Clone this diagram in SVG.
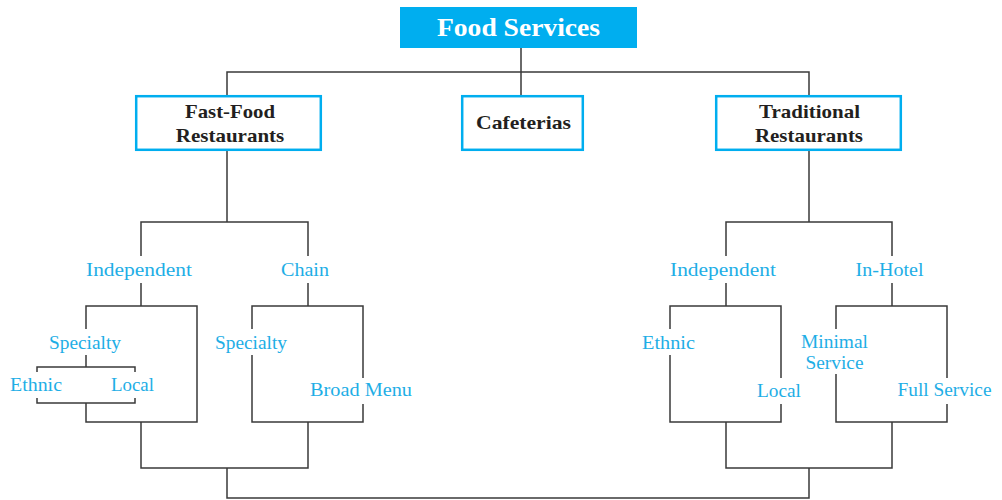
<svg xmlns="http://www.w3.org/2000/svg" width="1002" height="500" viewBox="0 0 1002 500">
<style>
.ln{fill:none;stroke:#3a3a3a;stroke-width:1.5}
.bx{fill:#fff;stroke:#00AEEF;stroke-width:2.5}
.hd{font-family:"Liberation Serif","Times New Roman",serif;font-weight:bold;font-size:19px;fill:#231F20;text-anchor:middle}
.lb{font-family:"Liberation Serif","Times New Roman",serif;font-size:18px;fill:#1EAEE6;text-anchor:middle}
.tt{font-family:"Liberation Serif","Times New Roman",serif;font-weight:bold;font-size:25px;fill:#fff;text-anchor:middle}
</style>
<rect width="1002" height="500" fill="#fff"/>
<g id="connectors">
<path class="ln" d="M521,48V95M227,95V72H809V95"/>
<path class="ln" d="M227,151V222M141,256V222H308V256"/>
<path class="ln" d="M141,283V306M86,329V306H197V422H86V403M86,355V367M37,372V367H135V372M37,398V403H135V398"/>
<path class="ln" d="M308,283V306M252,329V306H363V378M363,404V422H252V355"/>
<path class="ln" d="M141,422V468H308V422M227,468V498H809V468"/>
<path class="ln" d="M809,151V222M726,256V222H892V256"/>
<path class="ln" d="M726,283V306M670,329V306H781V378M781,404V422H670V355"/>
<path class="ln" d="M892,283V306M836,329V306H947V378M947,404V422H836V374"/>
<path class="ln" d="M726,422V468H892V422"/>
</g>
<g id="food-services">
<rect x="400" y="7" width="237" height="41" fill="#00AEEF"/>
<text class="tt" x="518.5" y="36" textLength="163" lengthAdjust="spacingAndGlyphs">Food Services</text>
</g>
<g id="fast-food">
<rect class="bx" x="136.2" y="96.2" width="184.6" height="53.6"/>
<text class="hd" x="230" y="118" textLength="90" lengthAdjust="spacingAndGlyphs">Fast-Food</text>
<text class="hd" x="230" y="142" textLength="108.5" lengthAdjust="spacingAndGlyphs">Restaurants</text>
</g>
<g id="cafeterias">
<rect class="bx" x="462.2" y="96.2" width="120.6" height="53.6"/>
<text class="hd" x="523.5" y="129" textLength="95" lengthAdjust="spacingAndGlyphs">Cafeterias</text>
</g>
<g id="traditional">
<rect class="bx" x="716.2" y="96.2" width="184.6" height="53.6"/>
<text class="hd" x="809.5" y="118" textLength="101" lengthAdjust="spacingAndGlyphs">Traditional</text>
<text class="hd" x="809" y="142" textLength="108" lengthAdjust="spacingAndGlyphs">Restaurants</text>
</g>
<g id="ff-independent"><text class="lb" x="139" y="276" textLength="106" lengthAdjust="spacingAndGlyphs">Independent</text></g>
<g id="ff-chain"><text class="lb" x="305" y="276" textLength="48" lengthAdjust="spacingAndGlyphs">Chain</text></g>
<g id="ffi-specialty"><text class="lb" x="85" y="348.5" textLength="72" lengthAdjust="spacingAndGlyphs">Specialty</text></g>
<g id="ffi-ethnic"><text class="lb" x="36" y="391" textLength="52" lengthAdjust="spacingAndGlyphs">Ethnic</text></g>
<g id="ffi-local"><text class="lb" x="132.5" y="391" textLength="43" lengthAdjust="spacingAndGlyphs">Local</text></g>
<g id="ffc-specialty"><text class="lb" x="251" y="348.5" textLength="72" lengthAdjust="spacingAndGlyphs">Specialty</text></g>
<g id="ffc-broad"><text class="lb" x="361" y="396" textLength="102" lengthAdjust="spacingAndGlyphs">Broad Menu</text></g>
<g id="tr-independent"><text class="lb" x="723" y="276" textLength="106" lengthAdjust="spacingAndGlyphs">Independent</text></g>
<g id="tr-inhotel"><text class="lb" x="889.5" y="276" textLength="68" lengthAdjust="spacingAndGlyphs">In-Hotel</text></g>
<g id="tri-ethnic"><text class="lb" x="668.5" y="348.5" textLength="53" lengthAdjust="spacingAndGlyphs">Ethnic</text></g>
<g id="tri-local"><text class="lb" x="779" y="397" textLength="44" lengthAdjust="spacingAndGlyphs">Local</text></g>
<g id="trh-minimal"><text class="lb" x="834.5" y="348" textLength="67" lengthAdjust="spacingAndGlyphs">Minimal</text><text class="lb" x="834.5" y="369" textLength="58" lengthAdjust="spacingAndGlyphs">Service</text></g>
<g id="trh-full"><text class="lb" x="944.5" y="396" textLength="94" lengthAdjust="spacingAndGlyphs">Full Service</text></g>
</svg>
